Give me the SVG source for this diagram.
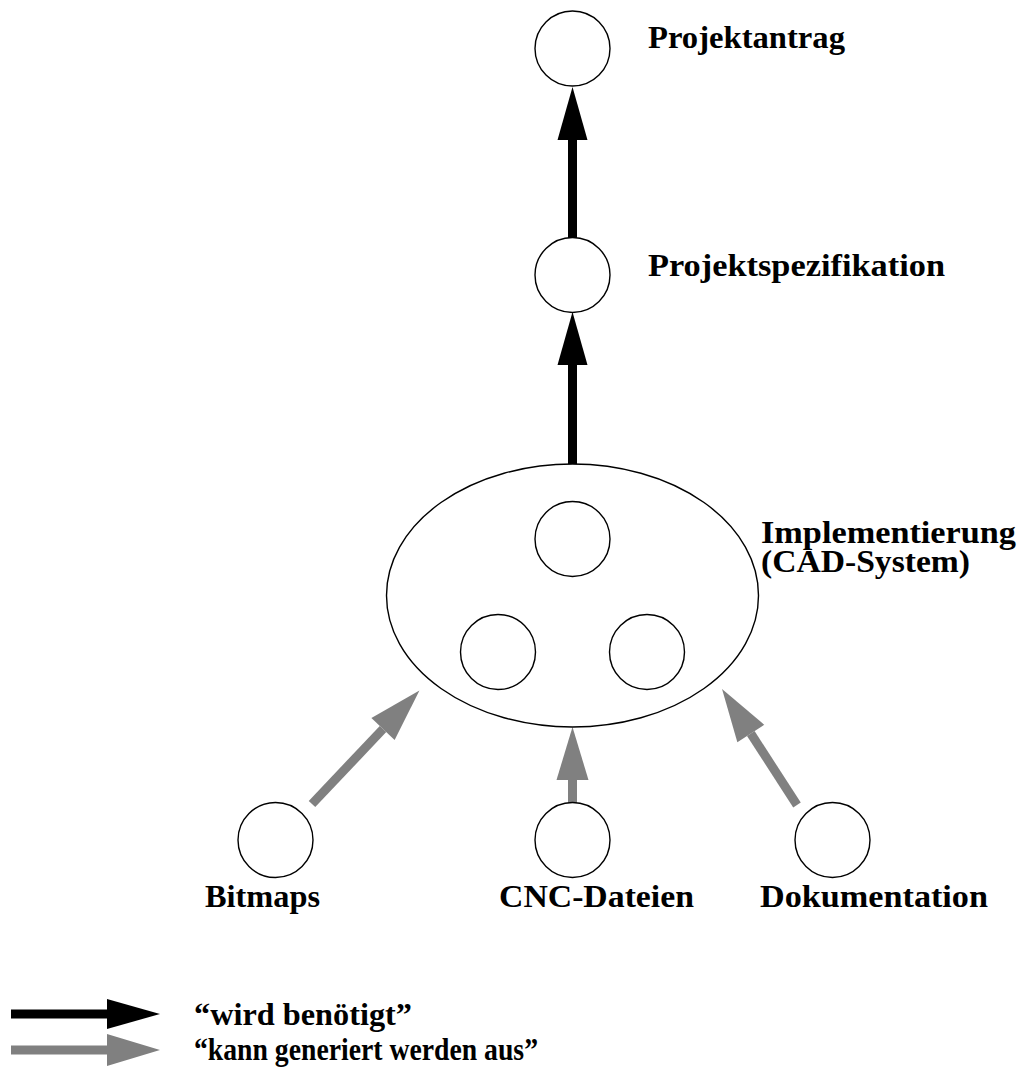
<svg xmlns="http://www.w3.org/2000/svg" width="1019" height="1070" viewBox="0 0 1019 1070">
<style>
.node{fill:#fff;stroke:#000;stroke-width:1.4}
.lbl{font-family:"Liberation Serif","Times New Roman",serif;font-weight:bold;font-size:31px;fill:#000}
.req{stroke:#000;stroke-width:9;fill:none}
.gen{stroke:#808080;stroke-width:9;fill:none}
</style>
<defs>
<marker id="hb" markerUnits="userSpaceOnUse" markerWidth="60" markerHeight="40" refX="0" refY="15" orient="auto" viewBox="0 0 60 40" overflow="visible">
<path d="M0,0 L53,15 L0,30 z" fill="#000"/>
</marker>
<marker id="hg" markerUnits="userSpaceOnUse" markerWidth="60" markerHeight="40" refX="0" refY="16" orient="auto" viewBox="0 0 60 40" overflow="visible">
<path d="M0,0 L53,16 L0,32 z" fill="#808080"/>
</marker>
</defs>
<rect width="1019" height="1070" fill="#fff"/>
<g id="connectors">
<line class="req" x1="572.5" y1="240" x2="572.5" y2="140" marker-end="url(#hb)"/>
<line class="req" x1="572.5" y1="465" x2="572.5" y2="365" marker-end="url(#hb)"/>
<line class="gen" x1="312" y1="804" x2="383" y2="729" marker-end="url(#hg)"/>
<line class="gen" x1="572.5" y1="806" x2="572.5" y2="780" marker-end="url(#hg)"/>
<line class="gen" x1="797" y1="805" x2="750.8" y2="733.5" marker-end="url(#hg)"/>
</g>
<g id="projektantrag">
<circle class="node" cx="572.5" cy="48.5" r="37.5"/>
<text class="lbl" x="648" y="48" textLength="197" lengthAdjust="spacingAndGlyphs">Projektantrag</text>
</g>
<g id="projektspezifikation">
<circle class="node" cx="572.5" cy="275" r="37.5"/>
<text class="lbl" x="648" y="276" textLength="297" lengthAdjust="spacingAndGlyphs">Projektspezifikation</text>
</g>
<g id="implementierung">
<ellipse class="node" cx="572.5" cy="595.5" rx="186" ry="131.5"/>
<circle class="node" cx="572.5" cy="539" r="37.5"/>
<circle class="node" cx="498" cy="652" r="37.5"/>
<circle class="node" cx="647" cy="652" r="37.5"/>
<text class="lbl" x="761" y="543" textLength="255" lengthAdjust="spacingAndGlyphs">Implementierung</text>
<text class="lbl" x="761" y="572" textLength="209" lengthAdjust="spacingAndGlyphs">(CAD-System)</text>
</g>
<g id="bitmaps">
<circle class="node" cx="275.5" cy="840" r="37.5"/>
<text class="lbl" x="205" y="907" textLength="115" lengthAdjust="spacingAndGlyphs">Bitmaps</text>
</g>
<g id="cnc-dateien">
<circle class="node" cx="572.5" cy="840" r="37.5"/>
<text class="lbl" x="499" y="907" textLength="195" lengthAdjust="spacingAndGlyphs">CNC-Dateien</text>
</g>
<g id="dokumentation">
<circle class="node" cx="832.5" cy="840" r="37.5"/>
<text class="lbl" x="760" y="907" textLength="228" lengthAdjust="spacingAndGlyphs">Dokumentation</text>
</g>
<g id="legend">
<line class="req" x1="11" y1="1014" x2="107" y2="1014" stroke-width="10" marker-end="url(#hb)"/>
<line class="gen" x1="11" y1="1050" x2="107" y2="1050" stroke-width="8" marker-end="url(#hg)"/>
<text class="lbl" x="194" y="1025" textLength="218" lengthAdjust="spacingAndGlyphs">“wird benötigt”</text>
<text class="lbl" x="194" y="1060" textLength="344" lengthAdjust="spacingAndGlyphs">“kann generiert werden aus”</text>
</g>
</svg>
